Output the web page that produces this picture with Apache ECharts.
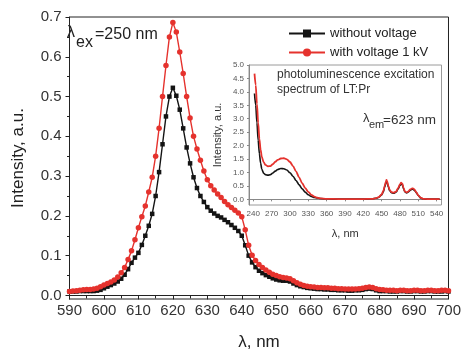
<!DOCTYPE html>
<html>
<head>
<meta charset="utf-8">
<script src="https://cdn.jsdelivr.net/npm/echarts@6.0.0/dist/echarts.min.js"></script>
<style>
  html, body { margin: 0; padding: 0; background: #fff; }
  #chart { width: 464px; height: 356px; }
</style>
</head>
<body>
<div id="chart"></div>
<script>
// emission spectra, 1 nm steps
const wavelength = [
  590, 591, 592, 593, 594, 595, 596, 597, 598, 599,
  600, 601, 602, 603, 604, 605, 606, 607, 608, 609,
  610, 611, 612, 613, 614, 615, 616, 617, 618, 619,
  620, 621, 622, 623, 624, 625, 626, 627, 628, 629,
  630, 631, 632, 633, 634, 635, 636, 637, 638, 639,
  640, 641, 642, 643, 644, 645, 646, 647, 648, 649,
  650, 651, 652, 653, 654, 655, 656, 657, 658, 659,
  660, 661, 662, 663, 664, 665, 666, 667, 668, 669,
  670, 671, 672, 673, 674, 675, 676, 677, 678, 679,
  680, 681, 682, 683, 684, 685, 686, 687, 688, 689,
  690, 691, 692, 693, 694, 695, 696, 697, 698, 699, 700
];
const withoutVoltage = [
  0.010, 0.010, 0.010, 0.011, 0.011, 0.011, 0.011, 0.011, 0.012, 0.014,
  0.018, 0.022, 0.026, 0.030, 0.035, 0.042, 0.052, 0.066, 0.082, 0.095,
  0.107, 0.127, 0.150, 0.175, 0.205, 0.250, 0.310, 0.380, 0.450, 0.500,
  0.522, 0.502, 0.467, 0.420, 0.372, 0.332, 0.297, 0.270, 0.250, 0.235,
  0.222, 0.213, 0.206, 0.200, 0.196, 0.190, 0.184, 0.177, 0.170, 0.162,
  0.150, 0.126, 0.100, 0.083, 0.071, 0.062, 0.056, 0.051, 0.047, 0.043,
  0.040, 0.038, 0.037, 0.037, 0.035, 0.030, 0.026, 0.023, 0.021, 0.019,
  0.018, 0.017, 0.016, 0.016, 0.015, 0.015, 0.014, 0.014, 0.013, 0.013,
  0.013, 0.012, 0.012, 0.013, 0.013, 0.014, 0.016, 0.017, 0.016, 0.013,
  0.011, 0.011, 0.011, 0.010, 0.010, 0.010, 0.011, 0.011, 0.010, 0.010,
  0.011, 0.011, 0.010, 0.010, 0.011, 0.011, 0.010, 0.010, 0.010, 0.011, 0.010
];
const withVoltage = [
  0.010, 0.011, 0.012, 0.013, 0.014, 0.015, 0.015, 0.016, 0.018, 0.022,
  0.026, 0.030, 0.034, 0.039, 0.046, 0.057, 0.070, 0.090, 0.112, 0.140,
  0.170, 0.198, 0.225, 0.260, 0.297, 0.350, 0.420, 0.500, 0.578, 0.650,
  0.686, 0.662, 0.612, 0.558, 0.500, 0.446, 0.400, 0.368, 0.340, 0.313,
  0.291, 0.276, 0.265, 0.255, 0.246, 0.236, 0.228, 0.221, 0.214, 0.207,
  0.198, 0.165, 0.126, 0.101, 0.088, 0.078, 0.070, 0.064, 0.058, 0.053,
  0.050, 0.047, 0.045, 0.044, 0.042, 0.037, 0.032, 0.028, 0.025, 0.023,
  0.022, 0.021, 0.020, 0.020, 0.019, 0.019, 0.018, 0.018, 0.017, 0.017,
  0.016, 0.016, 0.016, 0.016, 0.017, 0.018, 0.020, 0.021, 0.020, 0.017,
  0.015, 0.014, 0.013, 0.013, 0.013, 0.012, 0.013, 0.013, 0.012, 0.012,
  0.013, 0.013, 0.012, 0.012, 0.013, 0.013, 0.012, 0.012, 0.013, 0.013, 0.012
];

// inset: excitation spectrum (lambda_em = 623 nm)
const exWavelength = [
  242, 244, 246, 248, 250, 252, 254, 257, 260, 264, 268, 272, 276, 280, 285,
  290, 295, 300, 305, 310, 315, 320, 325, 330, 335, 340, 345, 350, 360, 380,
  400, 420, 435, 440, 445, 450, 453, 455, 457, 458, 459, 461, 463, 466, 470,
  474, 477, 480, 482, 483, 484, 486, 488, 491, 494, 497, 500, 502, 504, 507,
  510, 514, 518, 525, 535, 545
];
const exWithout = [
  3.94, 3.50, 2.85, 2.20, 1.70, 1.35, 1.12, 0.97, 0.92, 0.90, 0.92, 0.98, 1.05, 1.11, 1.15,
  1.14, 1.09, 0.99, 0.86, 0.70, 0.54, 0.39, 0.27, 0.17, 0.11, 0.07, 0.05, 0.03, 0.02, 0.01,
  0.01, 0.01, 0.02, 0.04, 0.07, 0.16, 0.29, 0.46, 0.61, 0.66, 0.62, 0.46, 0.33, 0.25, 0.23,
  0.28, 0.39, 0.52, 0.57, 0.58, 0.54, 0.39, 0.28, 0.24, 0.28, 0.34, 0.38, 0.37, 0.33, 0.24,
  0.14, 0.05, 0.02, 0.01, 0.01, 0.01
];
const exWith = [
  4.68, 4.25, 3.55, 2.85, 2.25, 1.85, 1.58, 1.38, 1.28, 1.23, 1.24, 1.31, 1.40, 1.47, 1.52,
  1.53, 1.49, 1.39, 1.24, 1.04, 0.82, 0.60, 0.42, 0.28, 0.17, 0.10, 0.06, 0.04, 0.02, 0.01,
  0.01, 0.01, 0.02, 0.04, 0.08, 0.18, 0.32, 0.50, 0.66, 0.72, 0.68, 0.50, 0.36, 0.27, 0.25,
  0.30, 0.42, 0.56, 0.62, 0.63, 0.58, 0.42, 0.30, 0.26, 0.30, 0.37, 0.41, 0.40, 0.36, 0.26,
  0.15, 0.06, 0.02, 0.01, 0.01, 0.01
];

const mainYTicks = [0, 0.1, 0.2, 0.3, 0.4, 0.5, 0.6, 0.7];
const mainYMinor = [0.05, 0.15, 0.25, 0.35, 0.45, 0.55, 0.65];
const insetXTicks = [240, 270, 300, 330, 360, 390, 420, 450, 480, 510, 540];
const insetYTicks = [0, 0.5, 1, 1.5, 2, 2.5, 3, 3.5, 4, 4.5, 5];

const FONT = 'Liberation Sans, Arial, sans-serif';
const BLACK = '#141414';
const RED = '#e5322d';

function pairs(xs, ys) {
  return xs.map((x, i) => [x, ys[i]]);
}

const chart = echarts.init(document.getElementById('chart'), null, {renderer: 'canvas'});

const option = {
  animation: false,
  backgroundColor: '#fff',
  textStyle: {fontFamily: FONT},
  grid: [
    {left: 69.5, top: 17, right: 14, bottom: 56, show: true, borderColor: '#222', borderWidth: 1},
    {left: 249, top: 65, width: 192.5, height: 140, show: true, borderColor: '#9a9a9a', borderWidth: 1, backgroundColor: '#fff'}
  ],
  legend: {
    orient: 'vertical',
    left: 283,
    top: 22,
    itemWidth: 36,
    itemHeight: 10,
    itemGap: 6,
    textStyle: {fontSize: 13, color: '#222', fontFamily: FONT},
    data: ['without voltage', 'with voltage 1 kV']
  },
  xAxis: [
    {
      gridIndex: 0,
      type: 'value',
      min: 590,
      max: 700,
      interval: 10,
      axisLine: {lineStyle: {color: '#222'}},
      axisTick: {length: 4, lineStyle: {color: '#222'}},
      minorTick: {show: true, splitNumber: 2, length: 3, lineStyle: {color: '#222'}},
      splitLine: {show: false},
      axisLabel: {fontSize: 15, color: '#333', margin: 4},
      name: 'λ, nm',
      nameLocation: 'middle',
      nameGap: 35,
      nameTextStyle: {fontSize: 17, color: '#222'}
    },
    {
      gridIndex: 1,
      type: 'value',
      min: 233,
      max: 548,
      axisLine: {lineStyle: {color: '#888'}},
      axisTick: {length: 2, lineStyle: {color: '#888'}, customValues: insetXTicks},
      splitLine: {show: false},
      axisLabel: {fontSize: 8, color: '#555', margin: 5, customValues: insetXTicks},
      name: 'λ, nm',
      nameLocation: 'middle',
      nameGap: 23,
      nameTextStyle: {fontSize: 11, color: '#333'}
    }
  ],
  yAxis: [
    {
      gridIndex: 0,
      type: 'value',
      min: -0.009,
      max: 0.7,
      axisLine: {show: true, lineStyle: {color: '#222'}},
      axisTick: {show: true, length: 4, lineStyle: {color: '#222'}, customValues: mainYTicks},
      splitLine: {show: false},
      axisLabel: {fontSize: 15, color: '#333', margin: 8, customValues: mainYTicks, formatter: v => v.toFixed(1)},
      name: 'Intensity, a.u.',
      nameLocation: 'middle',
      nameGap: 43,
      nameTextStyle: {fontSize: 17, color: '#222'}
    },
    {
      // minor ticks only
      gridIndex: 0,
      type: 'value',
      min: -0.009,
      max: 0.7,
      position: 'left',
      axisLine: {show: false},
      axisTick: {show: true, length: 2.5, lineStyle: {color: '#222'}, customValues: mainYMinor},
      splitLine: {show: false},
      axisLabel: {show: false}
    },
    {
      gridIndex: 1,
      type: 'value',
      min: -0.21,
      max: 5.0,
      axisLine: {show: true, lineStyle: {color: '#888'}},
      axisTick: {show: true, length: 2, lineStyle: {color: '#888'}, customValues: insetYTicks},
      splitLine: {show: false},
      axisLabel: {fontSize: 8, color: '#555', margin: 5, customValues: insetYTicks, formatter: v => v.toFixed(1)},
      name: 'Intensity, a.u.',
      nameLocation: 'middle',
      nameGap: 26,
      nameTextStyle: {fontSize: 11, color: '#333'}
    }
  ],
  series: [
    {
      name: 'without voltage',
      type: 'line',
      xAxisIndex: 0,
      yAxisIndex: 0,
      data: pairs(wavelength, withoutVoltage),
      symbol: 'rect',
      symbolSize: 4.5,
      itemStyle: {color: BLACK},
      lineStyle: {color: BLACK, width: 1.4}
    },
    {
      name: 'with voltage 1 kV',
      type: 'line',
      xAxisIndex: 0,
      yAxisIndex: 0,
      data: pairs(wavelength, withVoltage),
      symbol: 'circle',
      symbolSize: 5.5,
      itemStyle: {color: RED},
      lineStyle: {color: RED, width: 1.4}
    },
    {
      type: 'line',
      xAxisIndex: 1,
      yAxisIndex: 2,
      data: pairs(exWavelength, exWithout),
      showSymbol: false,
      smooth: 0.3,
      smoothMonotone: 'x',
      lineStyle: {color: BLACK, width: 1.6}
    },
    {
      type: 'line',
      xAxisIndex: 1,
      yAxisIndex: 2,
      data: pairs(exWavelength, exWith),
      showSymbol: false,
      smooth: 0.3,
      smoothMonotone: 'x',
      lineStyle: {color: RED, width: 1.8}
    }
  ],
  graphic: [
    {type: 'text', x: 67, y: 33, style: {text: 'λ', fontSize: 16, fontFamily: FONT, fill: '#222', verticalAlign: 'middle'}},
    {type: 'text', x: 76, y: 43, style: {text: 'ex', fontSize: 16, fontFamily: FONT, fill: '#222', verticalAlign: 'middle'}},
    {type: 'text', x: 95, y: 35, style: {text: '=250 nm', fontSize: 16, fontFamily: FONT, fill: '#222', verticalAlign: 'middle'}},
    {type: 'text', x: 277, y: 75, style: {text: 'photoluminescence excitation', fontSize: 12, fontFamily: FONT, fill: '#333', verticalAlign: 'middle'}},
    {type: 'text', x: 277, y: 90, style: {text: 'spectrum of LT:Pr', fontSize: 12, fontFamily: FONT, fill: '#333', verticalAlign: 'middle'}},
    {type: 'text', x: 363, y: 118, style: {text: 'λ', fontSize: 13, fontFamily: FONT, fill: '#333', verticalAlign: 'middle'}},
    {type: 'text', x: 369, y: 125, style: {text: 'em', fontSize: 11, fontFamily: FONT, fill: '#333', verticalAlign: 'middle'}},
    {type: 'text', x: 383, y: 120, style: {text: '=623 nm', fontSize: 13.5, fontFamily: FONT, fill: '#333', verticalAlign: 'middle'}}
  ]
};

chart.setOption(option);
</script>
</body>
</html>
